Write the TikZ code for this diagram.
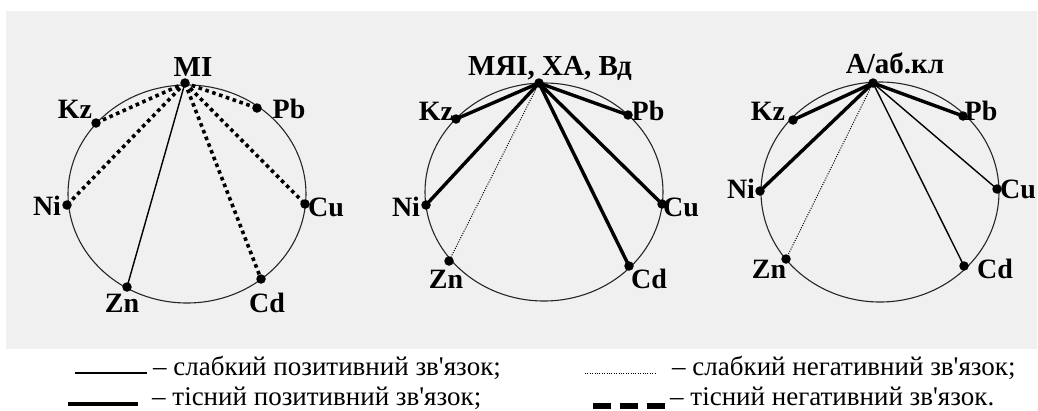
\documentclass[tikz,border=0pt]{standalone}
\usepackage{fontspec}
\setmainfont{Liberation Serif}[Ligatures=TeXOff]
\begin{document}
\begin{tikzpicture}[x=1pt,y=-1pt,
  dotnode/.style={circle,fill=black,inner sep=0pt,minimum size=9.5pt},
  lbl/.style={inner sep=0pt,font=\fontsize{28}{28}\selectfont\bfseries},
  ttl/.style={inner sep=0pt,font=\fontsize{29}{29}\selectfont\bfseries},
  legtxt/.style={inner sep=0pt,anchor=base west,font=\fontsize{27}{27}\selectfont},
  rim/.style={draw=black!85,line width=1.1pt},
  weakpos/.style={line width=1.4pt},
  strongpos/.style={line width=3.4pt},
  weakneg/.style={line width=1pt,dash pattern=on 1pt off 1.4pt},
  strongneg/.style={line width=3.6pt,dash pattern=on 3.6pt off 3.6pt},
  legneg/.style={line width=6pt,dash pattern=on 18pt off 9pt}]
\useasboundingbox (0,0) rectangle (1038,410);
\fill[white] (0,0) rectangle (1038,410);
\fill[black!6] (6,11) rectangle (1037,349);

% ---------- diagram 1 ----------
\draw[rim] (187,194) ellipse [x radius=119pt, y radius=109pt];
\node[dotnode] (a0) at (185,83) {};
\node[dotnode] (aKz) at (96,123) {};
\node[dotnode] (aPb) at (257,108) {};
\node[dotnode] (aNi) at (67,205) {};
\node[dotnode] (aCu) at (305,204) {};
\node[dotnode] (aZn) at (127,287) {};
\node[dotnode] (aCd) at (261,279) {};
\node[ttl] (ta) at (193,67) {MI};
\node[lbl] (laKz) at (75,109) {Kz};
\node[lbl] (laPb) at (289,109) {Pb};
\node[lbl] (laNi) at (47,206) {Ni};
\node[lbl] (laCu) at (326,207) {Cu};
\node[lbl] (laZn) at (122,303) {Zn};
\node[lbl] (laCd) at (267,303) {Cd};
\draw[strongneg] (a0.center) -- (aKz.center);
\draw[strongneg] (a0.center) -- (aPb.center);
\draw[strongneg] (a0.center) -- (aNi.center);
\draw[strongneg] (a0.center) -- (aCu.center);
\draw[strongneg] (a0.center) -- (aCd.center);
\draw[weakpos] (a0.center) -- (aZn.center);

% ---------- diagram 2 ----------
\draw[rim] (544,192) ellipse [x radius=119pt, y radius=109pt];
\node[dotnode] (b0) at (539,83) {};
\node[dotnode] (bKz) at (456,119) {};
\node[dotnode] (bPb) at (628,115) {};
\node[dotnode] (bNi) at (426,205) {};
\node[dotnode] (bCu) at (662,204) {};
\node[dotnode] (bZn) at (449,261) {};
\node[dotnode] (bCd) at (629,266) {};
\node[ttl] (tb) at (550,68) {МЯІ, ХА, Вд};
\node[lbl] (lbKz) at (436,111) {Kz};
\node[lbl] (lbPb) at (648,111) {Pb};
\node[lbl] (lbNi) at (406,207) {Ni};
\node[lbl] (lbCu) at (681,207) {Cu};
\node[lbl] (lbZn) at (446,279) {Zn};
\node[lbl] (lbCd) at (649,279) {Cd};
\draw[strongpos] (b0.center) -- (bKz.center);
\draw[strongpos] (b0.center) -- (bPb.center);
\draw[strongpos] (b0.center) -- (bNi.center);
\draw[strongpos] (b0.center) -- (bCu.center);
\draw[strongpos] (b0.center) -- (bCd.center);
\draw[weakneg] (b0.center) -- (bZn.center);

% ---------- diagram 3 ----------
\draw[rim] (880,192) ellipse [x radius=119pt, y radius=110pt];
\node[dotnode] (c0) at (873,83) {};
\node[dotnode] (cKz) at (793,120) {};
\node[dotnode] (cPb) at (963,116) {};
\node[dotnode] (cNi) at (760,191) {};
\node[dotnode] (cCu) at (997,189) {};
\node[dotnode] (cZn) at (786,259) {};
\node[dotnode] (cCd) at (964,266) {};
\node[ttl] (tc) at (895,63) {А/аб.кл};
\node[lbl] (lcKz) at (768,111) {Kz};
\node[lbl] (lcPb) at (981,111) {Pb};
\node[lbl] (lcNi) at (741,189) {Ni};
\node[lbl] (lcCu) at (1018,189) {Cu};
\node[lbl] (lcZn) at (769,269) {Zn};
\node[lbl] (lcCd) at (995,269) {Cd};
\draw[strongpos] (c0.center) -- (cKz.center);
\draw[strongpos] (c0.center) -- (cPb.center);
\draw[strongpos] (c0.center) -- (cNi.center);
\draw[weakpos] (c0.center) -- (cCu.center);
\draw[weakpos] (c0.center) -- (cCd.center);
\draw[weakneg] (c0.center) -- (cZn.center);

% ---------- legend ----------
\coordinate (k1a) at (75,373);  \coordinate (k1b) at (147,373);
\coordinate (k2a) at (68,404);  \coordinate (k2b) at (138,404);
\coordinate (k3a) at (585,373); \coordinate (k3b) at (655,373);
\coordinate (k4a) at (593,406); \coordinate (k4b) at (665,406);
\draw[weakpos] (k1a) -- (k1b);
\draw[strongpos] (k2a) -- (k2b);
\draw[weakneg] (k3a) -- (k3b);
\draw[legneg] (k4a) -- (k4b);
\node[legtxt] (t1) at (153,375) {– слабкий позитивний зв'язок;};
\node[legtxt] (t2) at (152,405) {– тісний позитивний зв'язок;};
\node[legtxt] (t3) at (672,375) {– слабкий негативний зв'язок;};
\node[legtxt] (t4) at (670,405) {– тісний негативний зв'язок.};
\end{tikzpicture}
\end{document}
